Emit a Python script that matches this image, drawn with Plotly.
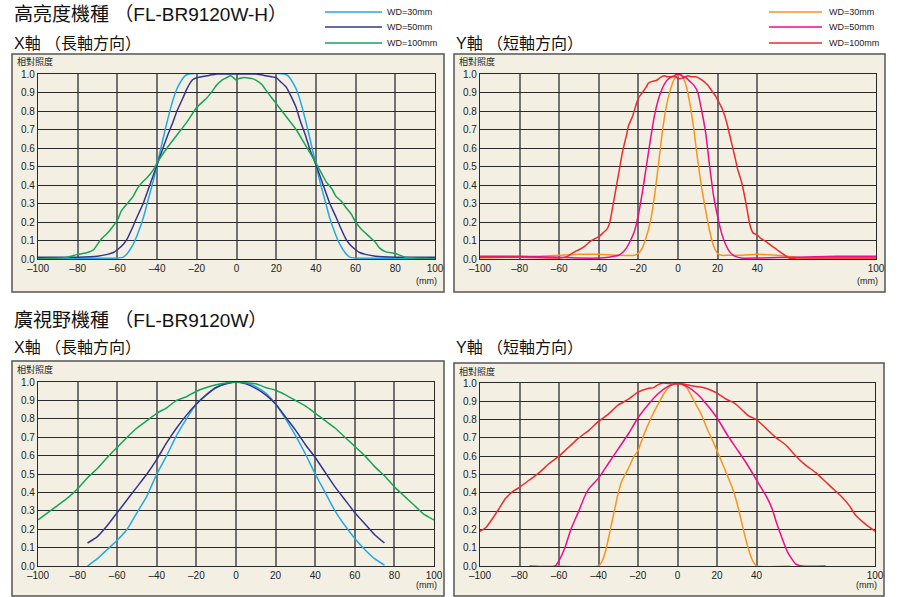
import plotly.graph_objects as go

# ---------------- DATA ----------------
# High brightness model (FL-BR9120W-H), X axis (long axis)
hb_x_wd30_x = [-100, -60, -57, -55, -52, -50, -47, -45, -42, -40, -37, -35, -32, -30, -28, -26, -24,
               24, 26, 28, 30, 32, 35, 37, 40, 42, 45, 47, 50, 52, 55, 57, 60, 100]
hb_x_wd30_y = [0.005, 0.005, 0.01, 0.03, 0.08, 0.13, 0.22, 0.3, 0.42, 0.51, 0.65, 0.74, 0.86, 0.92, 0.96, 0.99, 1.0,
               1.0, 0.99, 0.96, 0.92, 0.86, 0.74, 0.65, 0.51, 0.42, 0.3, 0.22, 0.13, 0.08, 0.03, 0.01, 0.005, 0.005]

hb_x_wd50_x = [-100, -80, -70, -65, -62, -60, -57, -55, -52, -50, -47, -45, -42, -40, -37, -35, -32, -30, -27, -25,
               -22, -20, -15, -10, 0, 10, 15, 20, 22, 25, 27, 30, 32, 35, 37, 40, 42, 45, 47, 50, 52, 55, 57, 60, 62,
               65, 70, 80, 100]
hb_x_wd50_y = [0.01, 0.01, 0.015, 0.025, 0.035, 0.05, 0.08, 0.11, 0.18, 0.23, 0.3, 0.36, 0.45, 0.51, 0.6, 0.66, 0.74,
               0.8, 0.87, 0.92, 0.97, 0.98, 0.99, 1.0, 1.0, 1.0, 0.99, 0.98, 0.96, 0.93, 0.89, 0.82, 0.75, 0.66, 0.59,
               0.51, 0.45, 0.36, 0.3, 0.23, 0.18, 0.11, 0.08, 0.05, 0.035, 0.025, 0.015, 0.01, 0.01]

hb_x_wd100_x = [-100, -90, -85, -80, -75, -72, -70, -68, -65, -62, -60, -58, -55, -52, -50, -47, -45, -42, -40, -35,
                -30, -25, -20, -15, -12, -10, -7, -5, -3, -1, 0, 1, 3, 5, 8, 10, 13, 15, 20, 25, 30, 35, 40, 43, 45,
                48, 50, 53, 55, 58, 60, 63, 65, 68, 70, 72, 75, 80, 85, 90, 100]
hb_x_wd100_y = [0.0, 0.005, 0.01, 0.025, 0.035, 0.05, 0.08, 0.11, 0.14, 0.18, 0.21, 0.26, 0.3, 0.34, 0.38, 0.42, 0.44,
                0.48, 0.52, 0.6, 0.67, 0.74, 0.82, 0.87, 0.91, 0.94, 0.97, 0.98, 0.99, 0.975, 0.965, 0.975, 0.98,
                0.98, 0.975, 0.965, 0.94, 0.91, 0.84, 0.77, 0.7, 0.61, 0.52, 0.46, 0.42, 0.38, 0.34, 0.31, 0.28,
                0.24, 0.2, 0.16, 0.14, 0.11, 0.09, 0.06, 0.04, 0.03, 0.01, 0.005, 0.0]

# High brightness model, Y axis (short axis)
hb_y_wd30_x = [-100, -80, -60, -50, -40, -30, -22, -20, -18, -16, -14, -12, -10, -8, -6, -4, -2, 0, 1, 2, 4, 6, 8,
               10, 12, 14, 16, 18, 20, 22, 25, 30, 40, 50, 60, 80, 100]
hb_y_wd30_y = [0.005, 0.01, 0.02, 0.025, 0.025, 0.02, 0.02, 0.03, 0.06, 0.12, 0.2, 0.33, 0.5, 0.68, 0.82, 0.91, 0.97,
               0.99, 1.0, 0.99, 0.94, 0.84, 0.7, 0.53, 0.38, 0.26, 0.15, 0.07, 0.03, 0.02, 0.02, 0.02, 0.025, 0.02,
               0.01, 0.005, 0.005]

hb_y_wd50_x = [-100, -80, -60, -50, -40, -35, -30, -28, -26, -24, -22, -20, -18, -16, -14, -12, -10, -8, -6, -4, -2,
               0, 2, 4, 6, 8, 10, 12, 14, 16, 18, 20, 22, 24, 26, 28, 30, 32, 40, 60, 80, 100]
hb_y_wd50_y = [0.015, 0.015, 0.01, 0.005, 0.005, 0.01, 0.02, 0.035, 0.06, 0.1, 0.15, 0.24, 0.36, 0.5, 0.64, 0.77,
               0.86, 0.92, 0.96, 0.98, 0.99, 1.0, 0.99, 0.98, 0.96, 0.94, 0.9, 0.8, 0.68, 0.5, 0.34, 0.23, 0.14, 0.08,
               0.04, 0.02, 0.01, 0.005, 0.005, 0.01, 0.015, 0.015]

hb_y_wd100_x = [-100, -80, -60, -57, -55, -52, -50, -47, -45, -42, -40, -38, -36, -35, -34, -33, -31, -30, -28, -26,
                -25, -23, -21, -20, -18, -16, -15, -13, -11, -9, -7, -5, -3, -1, 0, 1, 3, 5, 7, 9, 11, 13, 15, 17, 19,
                20, 22, 24, 25, 27, 29, 30, 32, 34, 35, 36, 37, 38, 40, 42, 45, 48, 50, 52, 54, 56, 60, 80, 100]
hb_y_wd100_y = [0.01, 0.01, 0.005, 0.01, 0.02, 0.04, 0.05, 0.07, 0.09, 0.11, 0.12, 0.14, 0.16, 0.18, 0.22, 0.28, 0.4,
                0.46, 0.58, 0.67, 0.72, 0.77, 0.84, 0.87, 0.9, 0.93, 0.95, 0.96, 0.965, 0.98, 0.99, 0.985, 0.985,
                0.985, 0.975, 0.975, 0.98, 0.99, 0.985, 0.985, 0.975, 0.96, 0.94, 0.91, 0.88, 0.86, 0.82, 0.76, 0.72,
                0.63, 0.54, 0.49, 0.42, 0.32, 0.26, 0.2, 0.16, 0.14, 0.13, 0.11, 0.09, 0.065, 0.05, 0.035, 0.02,
                0.005, 0.005, 0.005, 0.005]

# Wide field model (FL-BR9120W), X axis (long axis)
wf_x_x = [-75, -70, -65, -60, -55, -50, -45, -40, -35, -30, -25, -20, -15, -10, -5, 0, 5, 10, 15, 20, 25, 30, 35, 40,
          45, 50, 55, 60, 65, 70, 75]
wf_x_wd30_y = [0.0, 0.04, 0.09, 0.14, 0.2, 0.29, 0.38, 0.5, 0.6, 0.71, 0.8, 0.88, 0.93, 0.97, 0.99, 1.0, 0.995, 0.975,
               0.94, 0.88, 0.8, 0.71, 0.61, 0.5, 0.4, 0.3, 0.22, 0.15, 0.09, 0.04, 0.005]
wf_x_wd50_y = [0.125, 0.16, 0.22, 0.29, 0.36, 0.43, 0.5, 0.58, 0.67, 0.75, 0.82, 0.88, 0.93, 0.97, 0.99, 1.0, 0.99,
               0.965, 0.93, 0.88, 0.81, 0.74, 0.66, 0.59, 0.51, 0.43, 0.36, 0.29, 0.23, 0.17, 0.125]
wf_x_wd100_x = [-100, -95, -90, -85, -80, -75, -70, -65, -60, -55, -50, -45, -40, -35, -30, -25, -20, -15, -10, -5, 0,
                5, 10, 15, 20, 25, 30, 35, 40, 45, 50, 55, 60, 65, 70, 75, 80, 85, 90, 95, 100]
wf_x_wd100_y = [0.25, 0.29, 0.33, 0.37, 0.42, 0.48, 0.53, 0.59, 0.645, 0.7, 0.75, 0.79, 0.83, 0.86, 0.9, 0.92, 0.95,
                0.97, 0.985, 0.995, 1.0, 0.995, 0.99, 0.97, 0.955, 0.93, 0.9, 0.87, 0.83, 0.79, 0.75, 0.7, 0.65,
                0.6, 0.54, 0.49, 0.43, 0.38, 0.33, 0.28, 0.25]

# Wide field model, Y axis (short axis)
wf_y_wd30_x = [-62, -40, -38, -36, -34, -32, -30, -28, -25, -22, -20, -18, -15, -12, -10, -7, -5, -3, 0, 3, 5, 7, 10,
               12, 15, 18, 20, 22, 25, 28, 30, 32, 34, 36, 38, 40, 57]
wf_y_wd30_y = [0.0, 0.0, 0.03, 0.1, 0.2, 0.3, 0.4, 0.47, 0.53, 0.6, 0.63, 0.69, 0.77, 0.84, 0.88, 0.94, 0.97, 0.99,
               1.0, 0.99, 0.97, 0.93, 0.87, 0.83, 0.75, 0.68, 0.63, 0.58, 0.5, 0.42, 0.35, 0.26, 0.17, 0.09, 0.03,
               0.0, 0.0]
wf_y_wd50_x = [-75, -62, -60, -57, -54, -50, -47, -45, -40, -35, -30, -25, -20, -15, -10, -5, 0, 5, 10, 15, 20, 25,
               30, 35, 40, 45, 48, 50, 53, 56, 60, 63, 75]
wf_y_wd50_y = [0.0, 0.0, 0.03, 0.1, 0.2, 0.3, 0.38, 0.42, 0.48, 0.56, 0.64, 0.72, 0.81, 0.88, 0.94, 0.98, 1.0, 0.98,
               0.94, 0.88, 0.81, 0.72, 0.64, 0.56, 0.47, 0.38, 0.31, 0.24, 0.15, 0.07, 0.01, 0.0, 0.0]
wf_y_wd100_x = [-100, -97, -93, -90, -87, -83, -80, -75, -70, -65, -60, -55, -50, -45, -40, -35, -30, -25, -20, -15,
                -12, -10, -7, -3, 0, 3, 7, 10, 13, 17, 20, 25, 28, 30, 33, 36, 40, 45, 50, 55, 60, 65, 70, 75, 80,
                83, 87, 90, 95, 100]
wf_y_wd100_y = [0.19, 0.21, 0.27, 0.32, 0.37, 0.41, 0.43, 0.47, 0.51, 0.56, 0.6, 0.65, 0.7, 0.74, 0.79, 0.83, 0.88,
                0.91, 0.95, 0.97, 0.975, 0.99, 1.0, 0.995, 0.995, 0.995, 0.985, 0.98, 0.975, 0.96, 0.945, 0.91,
                0.895, 0.88, 0.85, 0.82, 0.8, 0.75, 0.7, 0.66, 0.6, 0.55, 0.51, 0.46, 0.41, 0.38, 0.33, 0.28, 0.23,
                0.19]

x_ticks_full = [-100, -80, -60, -40, -20, 0, 20, 40, 60, 80, 100]
x_ticks_short = [-100, -80, -60, -40, -20, 0, 20, 40, 100]
y_ticks = [0.0, 0.1, 0.2, 0.3, 0.4, 0.5, 0.6, 0.7, 0.8, 0.9, 1.0]

legend_labels = ["WD=30mm", "WD=50mm", "WD=100mm"]
colors_x = ["#22A9E4", "#34358F", "#16A456"]
colors_y = ["#F7941D", "#EC0C8C", "#EE2A2A"]

title_hb = "高亮度機種 （FL-BR9120W-H）"
title_wf = "廣視野機種 （FL-BR9120W）"
sub_x = "X軸 （長軸方向）"
sub_y = "Y軸 （短軸方向）"
y_label = "相對照度"
x_unit = "(mm)"

# ---------------- FIGURE ----------------
W, H = 898, 597
FONT = "Liberation Sans, Arial, Noto Sans CJK TC, sans-serif"
BEIGE = "#F3F0E3"


def px(x):
    return x / W


def py(y):
    return 1 - y / H


def tick_text(vals):
    return [("–" + str(-v)) if v < 0 else str(v) for v in vals]


fig = go.Figure()

panels = [
    ("", (38, 435, 74, 259), (12, 54, 444, 292), x_ticks_full,
     [(hb_x_wd30_x, hb_x_wd30_y), (hb_x_wd50_x, hb_x_wd50_y), (hb_x_wd100_x, hb_x_wd100_y)], colors_x),
    ("2", (480, 876, 74, 259), (454, 54, 885, 292), x_ticks_short,
     [(hb_y_wd30_x, hb_y_wd30_y), (hb_y_wd50_x, hb_y_wd50_y), (hb_y_wd100_x, hb_y_wd100_y)], colors_y),
    ("3", (38, 434, 382, 566), (12, 361, 444, 596), x_ticks_full,
     [(wf_x_x, wf_x_wd30_y), (wf_x_x, wf_x_wd50_y), (wf_x_wd100_x, wf_x_wd100_y)], colors_x),
    ("4", (480, 875, 383, 566), (454, 363, 884, 596), x_ticks_short,
     [(wf_y_wd30_x, wf_y_wd30_y), (wf_y_wd50_x, wf_y_wd50_y), (wf_y_wd100_x, wf_y_wd100_y)], colors_y),
]

shapes = []
annotations = []
layout_axes = {}

for suf, (x0, x1, yt, yb), (fx0, fy0, fx1, fy1), ticks, series, cols in panels:
    for (xs, ys), col, name in zip(series, cols, legend_labels):
        assert len(xs) == len(ys), (name, suf, len(xs), len(ys))
        fig.add_trace(go.Scatter(x=xs, y=ys, mode="lines", name=name, showlegend=False,
                                 line=dict(color=col, width=1.5, shape="spline", smoothing=0.5),
                                 xaxis="x" + suf, yaxis="y" + suf, hoverinfo="x+y"))
    layout_axes["xaxis" + suf] = dict(
        domain=[px(x0), px(x1)], anchor="y" + suf, range=[-100, 100], automargin=False,
        tickmode="array", tickvals=ticks, ticktext=tick_text(ticks), showgrid=True, gridcolor="#727272",
        gridwidth=1.6, zeroline=False, showline=True, mirror=True, linecolor="#2a2a2a", linewidth=1.2,
        ticks="", tickfont=dict(size=10, color="#222", family=FONT), fixedrange=True)
    layout_axes["yaxis" + suf] = dict(
        domain=[py(yb), py(yt)], anchor="x" + suf, range=[0, 1], automargin=False,
        tickmode="array", tickvals=y_ticks, tickformat=".1f", showgrid=True, gridcolor="#2a2a2a",
        gridwidth=1.1, zeroline=False, showline=True, mirror=True, linecolor="#2a2a2a", linewidth=1.2,
        ticks="", tickfont=dict(size=10, color="#222", family=FONT), fixedrange=True)
    shapes.append(dict(type="rect", xref="paper", yref="paper", x0=px(fx0), x1=px(fx1), y0=py(fy1), y1=py(fy0),
                       line=dict(color="#555", width=1.5), fillcolor=BEIGE, layer="below"))
    annotations.append(dict(text=y_label, x=px(fx0 + 3), y=py(fy0 + 8), xref="paper", yref="paper",
                            xanchor="left", yanchor="middle", showarrow=False,
                            font=dict(size=9, color="#222", family=FONT)))
    annotations.append(dict(text=x_unit, x=px(fx1 - 5), y=py(fy1 - 11), xref="paper", yref="paper",
                            xanchor="right", yanchor="middle", showarrow=False,
                            font=dict(size=9, color="#222", family=FONT)))

for txt, x, y, size in [(title_hb, 12, 15, 19), (sub_x, 12, 44, 16), (sub_y, 454, 44, 16),
                        (title_wf, 12, 320, 19), (sub_x, 12, 347, 16), (sub_y, 454, 347, 16)]:
    annotations.append(dict(text=txt, x=px(x), y=py(y), xref="paper", yref="paper", xanchor="left",
                            yanchor="middle", showarrow=False, font=dict(size=size, color="#111", family=FONT)))

for (lx0, lx1, tx), cols in [((325, 382, 385), colors_x), ((769, 822, 827), colors_y)]:
    for ly, col, lab in zip([12, 27, 43], cols, legend_labels):
        shapes.append(dict(type="line", xref="paper", yref="paper", x0=px(lx0), x1=px(lx1), y0=py(ly), y1=py(ly),
                           line=dict(color=col, width=1.5)))
        annotations.append(dict(text=lab, x=px(tx), y=py(ly), xref="paper", yref="paper", xanchor="left",
                                yanchor="middle", showarrow=False, font=dict(size=9, color="#222", family=FONT)))

fig.update_layout(width=W, height=H, autosize=False, margin=dict(l=0, r=0, t=0, b=0, pad=0),
                  paper_bgcolor="white", plot_bgcolor=BEIGE, showlegend=False,
                  shapes=shapes, annotations=annotations, font=dict(family=FONT), **layout_axes)

# remove the default page margin so the 898x597 figure fills the window exactly
fig.write_html("out.html", config={"displayModeBar": False},
               post_script="document.body.style.margin='0';document.body.style.overflow='hidden';")
